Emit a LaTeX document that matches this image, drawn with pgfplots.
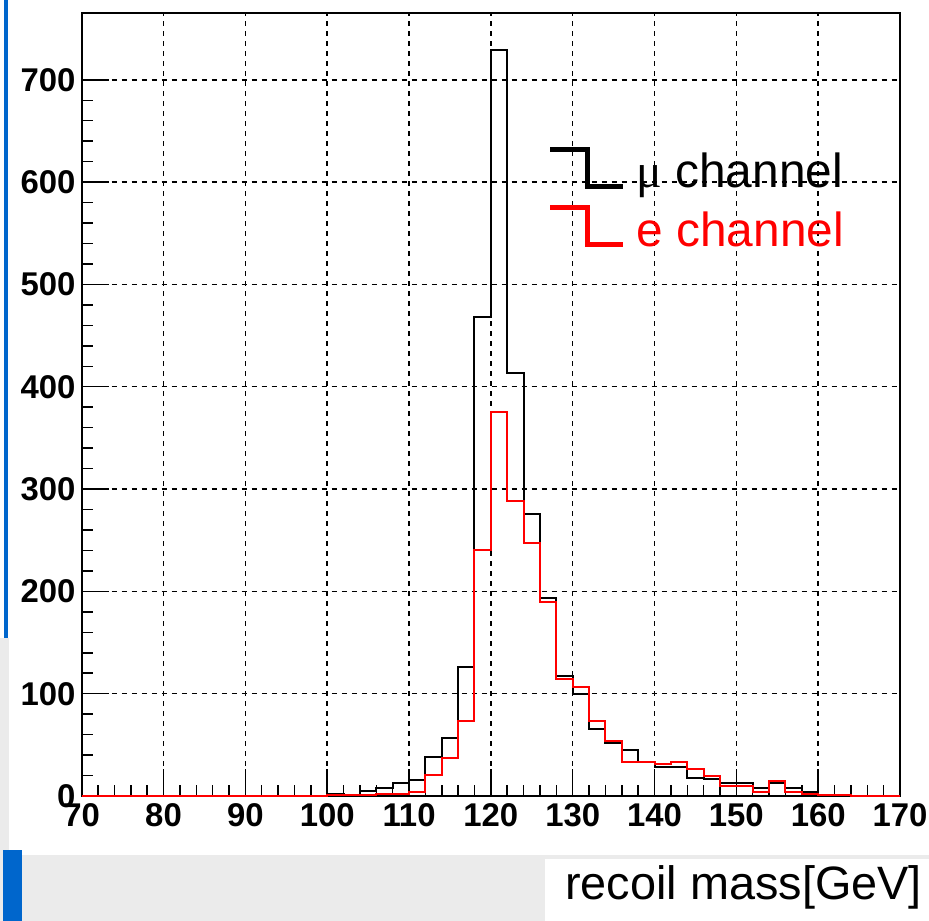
\documentclass[border=0pt]{standalone}
\usepackage{fontspec}
\setmainfont{Liberation Sans}
\newfontfamily\serifmu{Liberation Serif}
\usepackage{pgfplots}
\pgfplotsset{compat=1.18}
\definecolor{slideblue}{HTML}{0066CC}
\definecolor{slidegray}{HTML}{EBEBEB}

\pgfplotstableread{
x mu e
70 0 0
72 0 0
74 0 0
76 0 0
78 0 0
80 0 0
82 0 0
84 0 0
86 0 0
88 0 0
90 0 0
92 0 0
94 0 0
96 0 0
98 0 0
100 1.5 1
102 1.2 0.5
104 4.7 0.5
106 7.6 1.5
108 13 1.5
110 16 4
112 38 21
114 57 37
116 126 73
118 468 240
120 729 375
122 413 288
124 276 247
126 194 190
128 117 114
130 100 107
132 65 73
134 52 54
136 45 33
138 33 33
140 28 31
142 28 33
144 18 26
146 17 20
148 13 10
150 13 10
152 7.5 4
154 13 15
156 7.5 4
158 4 2
160 1 1
162 1 1
164 0 0
166 0 0
168 0 0
170 0 0
}\histdata

\begin{document}
\begin{tikzpicture}
\fill[white] (0,0) rectangle (929bp,921bp);
\fill[slidegray] (0,0) rectangle (929bp,66bp);
\fill[white] (545bp,0) rectangle (929bp,62bp);
\fill[slidegray] (0,66bp) rectangle (9bp,283bp);
\fill[slideblue] (3bp,0) rectangle (22bp,71bp);
\fill[slideblue] (3.5bp,283bp) rectangle (7.5bp,921bp);
\begin{axis}[
  at={(81.7bp,125bp)}, anchor=south west,
  width=818.3bp, height=782.7bp, scale only axis,
  xmin=70, xmax=170, ymin=0, ymax=765,
  clip=false,
  xtick={70,80,...,170}, ytick={0,100,...,700},
  minor x tick num=4, minor y tick num=4,
  tick align=inside, tick pos=left,
  major tick length=27bp, minor tick length=11bp,
  every tick/.style={black, line width=1.5bp},
  axis line style={line width=2bp},
  grid=major,
  major grid style={black, line width=1.5bp, dash pattern=on 5bp off 5bp},
  ticklabel style={font=\fontsize{33}{33}\selectfont\bfseries},
  /pgf/number format/assume math mode=true,
  xticklabel style={inner sep=2bp, yshift=-5bp},
  yticklabel style={inner sep=2bp, xshift=-4bp},
  xlabel={recoil mass[GeV]},
  xlabel style={at={(rel axis cs:1,0)}, anchor=east, xshift=22bp, yshift=-91bp, inner sep=0pt, font=\fontsize{47}{47}\selectfont},
  legend style={at={(0.569,0.83)}, anchor=north west, draw=none, fill=none,
    font=\fontsize{48}{48}\selectfont, row sep=14bp, column sep=9bp, inner sep=0pt,
    cells={anchor=west}},
]
\addplot[black, line width=2bp, const plot,
  legend image code/.code={\draw[black, line width=5bp] (0bp,22bp) -- (37bp,22bp) -- (37bp,-15bp) -- (73bp,-15bp);}]
  table[x=x, y=mu] {\histdata};
\addlegendentry{{\serifmu μ} channel}
\addplot[red, line width=2bp, const plot,
  legend image code/.code={\draw[red, line width=5bp] (0bp,22bp) -- (37bp,22bp) -- (37bp,-15bp) -- (73bp,-15bp);}]
  table[x=x, y=e] {\histdata};
\addlegendentry{\textcolor{red}{e channel}}
\end{axis}
\pgfresetboundingbox
\path[use as bounding box] (0,0) rectangle (929bp,921bp);
\end{tikzpicture}
\end{document}
